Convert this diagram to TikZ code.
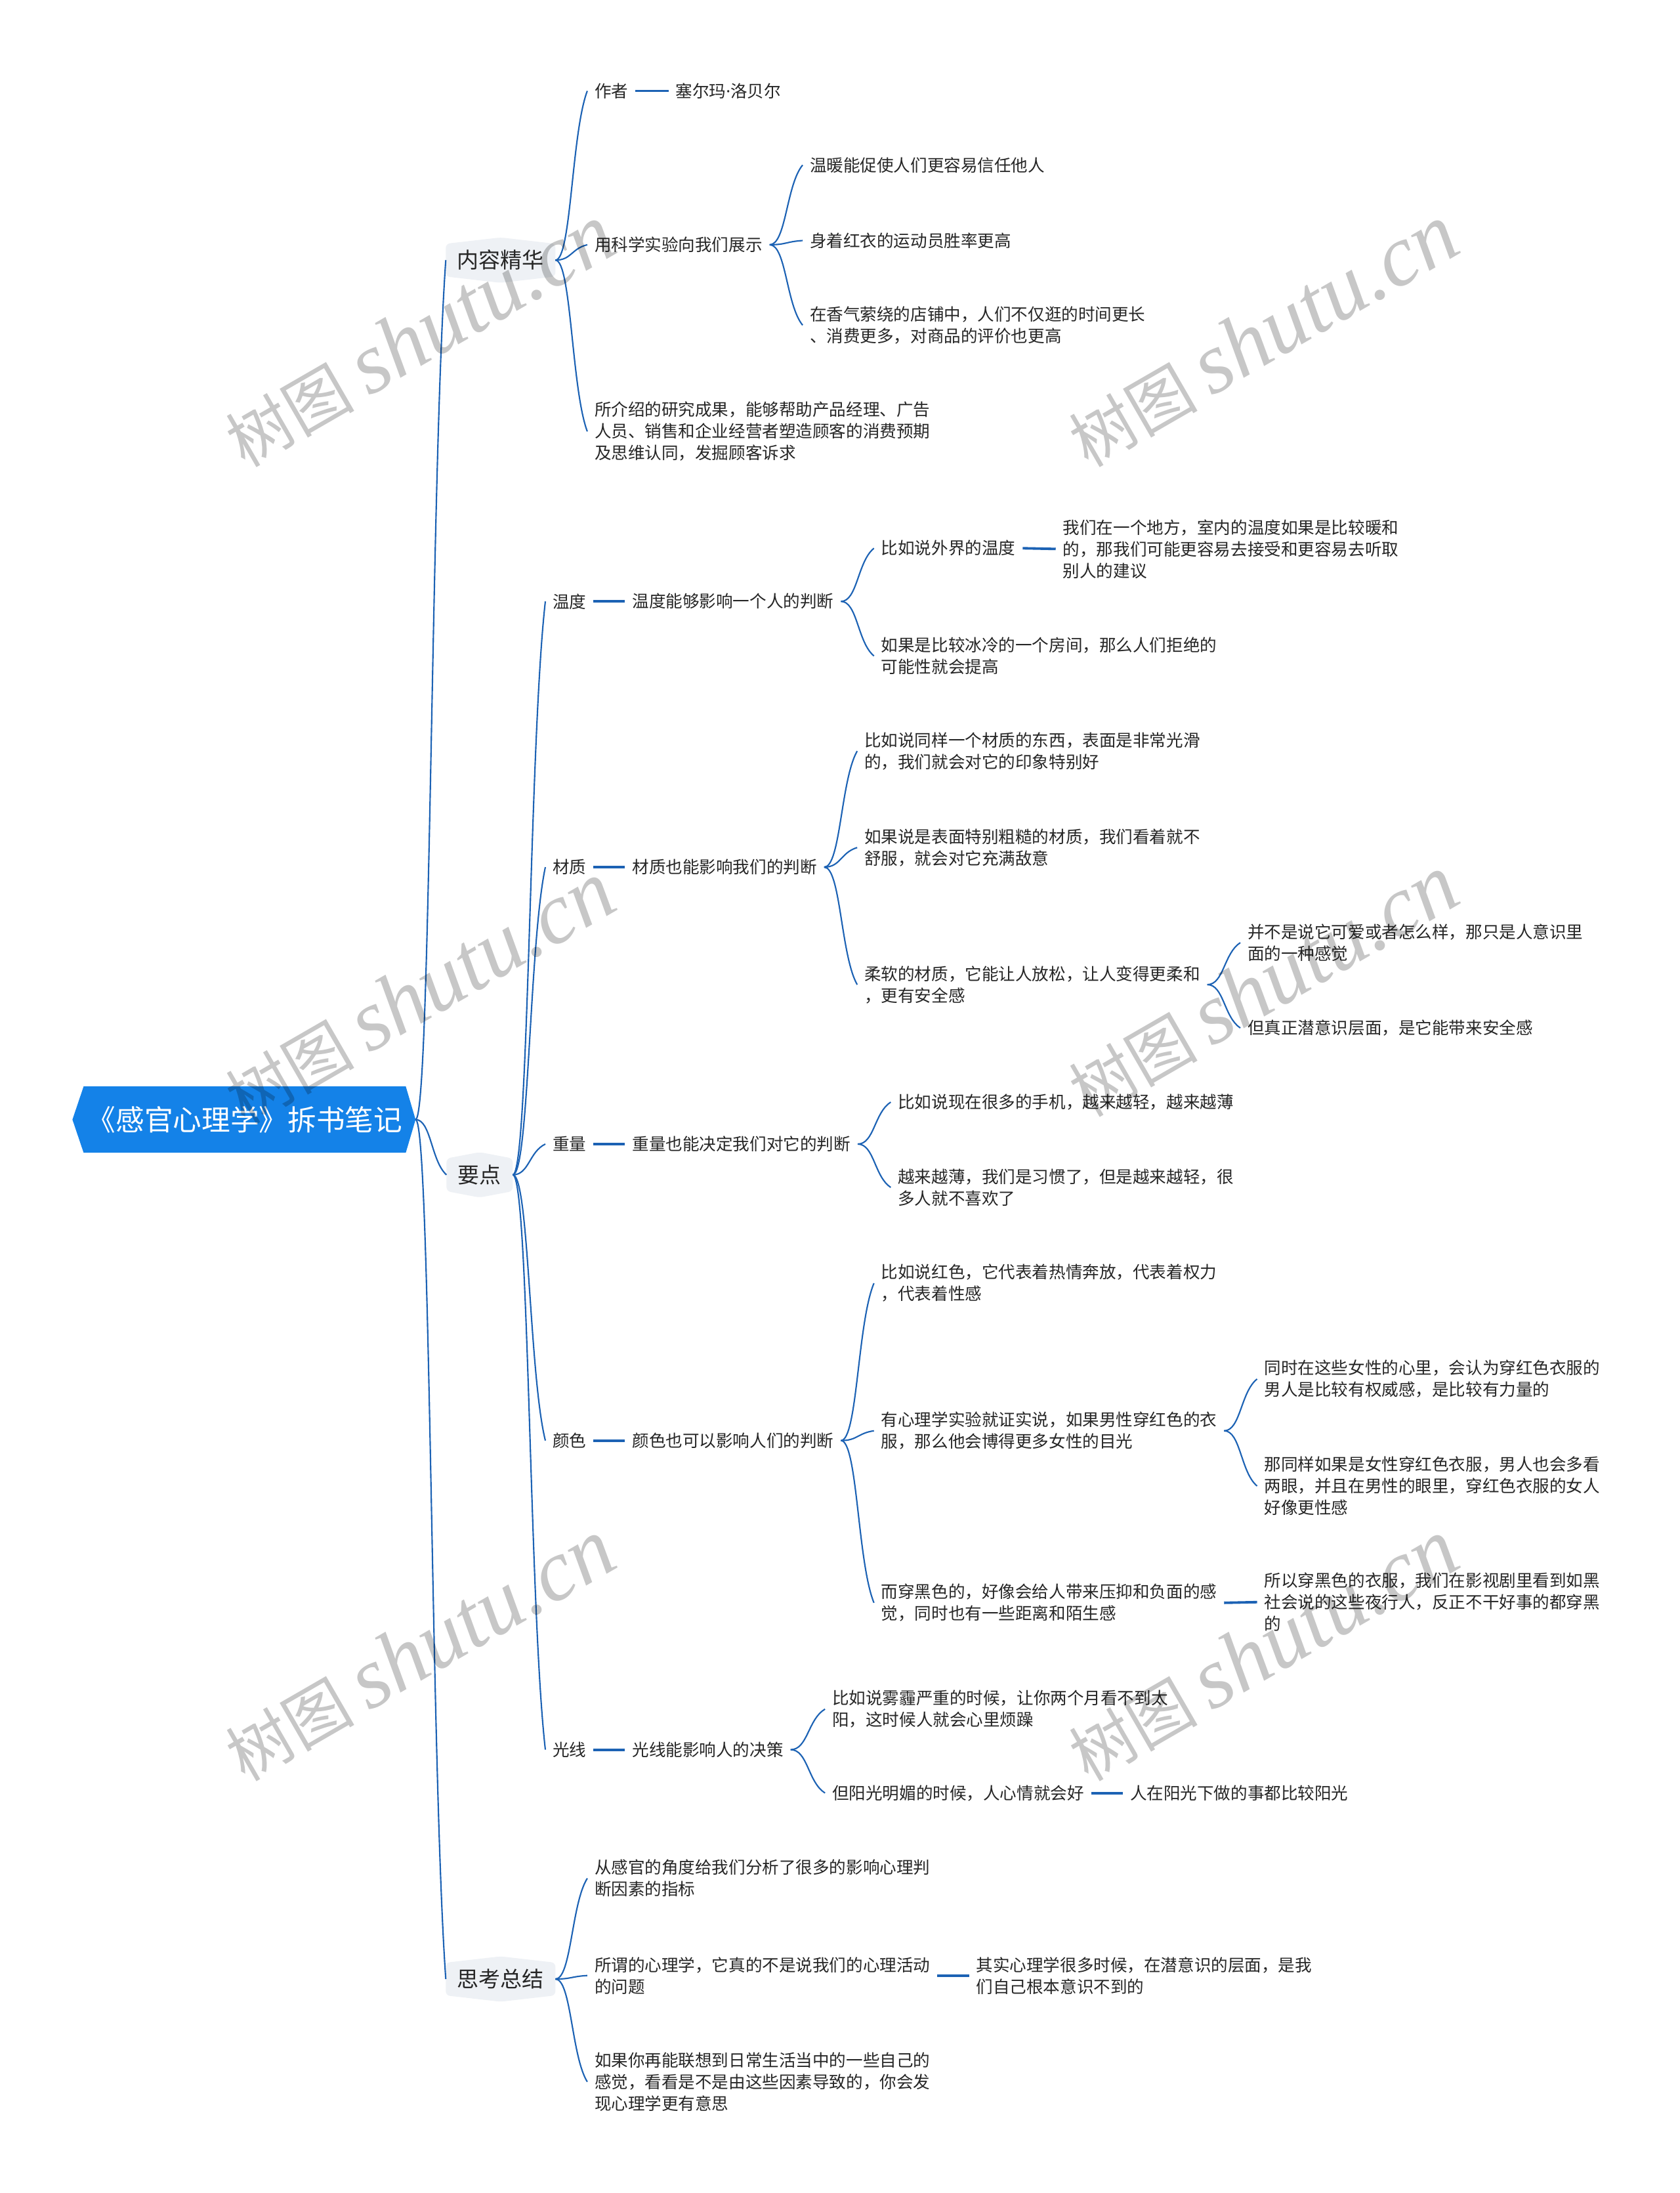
\documentclass[tikz,border=0pt]{standalone}
\usepackage{fontspec}
\newfontfamily\cjk{Noto Sans CJK SC}
\newfontfamily\latinsans{Noto Sans}
\newfontfamily\wmserif{Liberation Serif}
\usetikzlibrary{calc}
\pgfdeclarelayer{background}
\pgfsetlayers{background,main}
\definecolor{linec}{RGB}{28,98,180}
\definecolor{rootc}{RGB}{20,130,232}
\definecolor{lvlbg}{RGB}{238,241,245}
\definecolor{txt}{RGB}{38,38,38}
\tikzset{
  txtnode/.style={anchor=west, inner xsep=5pt, inner ysep=2pt, align=left, text=txt,
    font=\cjk\fontsize{12pt}{15.5pt}\selectfont},
  lvlnode/.style={inner xsep=8pt, inner ysep=0pt, minimum height=32pt, text=txt,
    font=\cjk\fontsize{15.5pt}{18pt}\selectfont},
  curveline/.style={draw=linec, line width=1pt},
  straightline/.style={draw=linec, line width=1.8pt},
  wmark/.style={rotate=30, text=black, text opacity=0.22, inner sep=0pt},
  lvlshape/.style={fill=lvlbg, rounded corners=3pt},
}
\newcommand\curv[2]{\draw[curveline] let \p1=(#1), \p2=(#2) in (\p1) .. controls ({0.5*\x1+0.5*\x2},\y1) and ({0.5*\x1+0.5*\x2},{0.25*\y1+0.75*\y2}) .. (\p2);}
\newcommand\strl[2]{\draw[straightline] (#1.east) -- (#2.west);}
\newcommand\hexbg[1]{\fill[lvlshape] ([yshift=-4.5pt]#1.north west) -- (#1.north) -- ([yshift=-4.5pt]#1.north east) -- ([yshift=4.5pt]#1.south east) -- (#1.south) -- ([yshift=4.5pt]#1.south west) -- cycle;}
\newcommand\wmtext{{\cjk\fontsize{46pt}{50pt}\selectfont 树图}\hspace{10pt}{\wmserif\itshape\fontsize{62pt}{66pt}\selectfont shutu.cn}}
\begin{document}
\begin{tikzpicture}[x=1pt,y=-1pt]
\useasboundingbox (0,0) rectangle (1201,1568);
\begin{pgfonlayer}{background}
\fill[white] (0,0) rectangle (1201,1568);
\end{pgfonlayer}

% root
\node[font=\cjk\fontsize{20.5pt}{24pt}\selectfont, text=white, minimum width=230pt, minimum height=47pt, inner sep=0pt] (root) at (175,800.5) {《感官心理学》拆书笔记};
\coordinate (rootR) at ([xshift=7pt]root.east);
\begin{pgfonlayer}{background}
\fill[rootc] ([xshift=-8pt]root.west) -- (root.north west) -- (root.north east) -- (rootR) -- (root.south east) -- (root.south west) -- cycle;
\end{pgfonlayer}

% level 1
\node[lvlnode] (L1a) at (358,186) {内容精华};
\node[lvlnode] (L1b) at (343,840) {要点};
\node[lvlnode] (L1c) at (358,1415) {思考总结};
\begin{pgfonlayer}{background}
\hexbg{L1a}\hexbg{L1b}\hexbg{L1c}
\end{pgfonlayer}

% 内容精华
\node[txtnode] (a1) at (420,65) {作者};
\node[txtnode] (a1v) at (478,65) {塞尔玛{\latinsans ·}洛贝尔};
\node[txtnode] (a2) at (420,175) {用科学实验向我们展示};
\node[txtnode] (a21) at (574,118) {温暖能促使人们更容易信任他人};
\node[txtnode] (a22) at (574,172) {身着红衣的运动员胜率更高};
\node[txtnode] (a23) at (574,232.5) {在香气萦绕的店铺中，人们不仅逛的时间更长\\、消费更多，对商品的评价也更高};
\node[txtnode] (a3) at (420,308.5) {所介绍的研究成果，能够帮助产品经理、广告\\人员、销售和企业经营者塑造顾客的消费预期\\及思维认同，发掘顾客诉求};

% 要点
\node[txtnode] (b1) at (390,430) {温度};
\node[txtnode] (b1v) at (447,430) {温度能够影响一个人的判断};
\node[txtnode] (b11) at (625,392) {比如说外界的温度};
\node[txtnode] (b11v) at (755,392.5) {我们在一个地方，室内的温度如果是比较暖和\\的，那我们可能更容易去接受和更容易去听取\\别人的建议};
\node[txtnode] (b12) at (625,469) {如果是比较冰冷的一个房间，那么人们拒绝的\\可能性就会提高};
\node[txtnode] (b2) at (390,620) {材质};
\node[txtnode] (b2v) at (447,620) {材质也能影响我们的判断};
\node[txtnode] (b21) at (613,537) {比如说同样一个材质的东西，表面是非常光滑\\的，我们就会对它的印象特别好};
\node[txtnode] (b22) at (613,606) {如果说是表面特别粗糙的材质，我们看着就不\\舒服，就会对它充满敌意};
\node[txtnode] (b23) at (613,704) {柔软的材质，它能让人放松，让人变得更柔和\\，更有安全感};
\node[txtnode] (b231) at (887,674) {并不是说它可爱或者怎么样，那只是人意识里\\面的一种感觉};
\node[txtnode] (b232) at (887,735) {但真正潜意识层面，是它能带来安全感};
\node[txtnode] (b3) at (390,818) {重量};
\node[txtnode] (b3v) at (447,818) {重量也能决定我们对它的判断};
\node[txtnode] (b31) at (637,788) {比如说现在很多的手机，越来越轻，越来越薄};
\node[txtnode] (b32) at (637,849) {越来越薄，我们是习惯了，但是越来越轻，很\\多人就不喜欢了};
\node[txtnode] (b4) at (390,1030) {颜色};
\node[txtnode] (b4v) at (447,1030) {颜色也可以影响人们的判断};
\node[txtnode] (b41) at (625,917.5) {比如说红色，它代表着热情奔放，代表着权力\\，代表着性感};
\node[txtnode] (b42) at (625,1023) {有心理学实验就证实说，如果男性穿红色的衣\\服，那么他会博得更多女性的目光};
\node[txtnode] (b421) at (899,986) {同时在这些女性的心里，会认为穿红色衣服的\\男人是比较有权威感，是比较有力量的};
\node[txtnode] (b422) at (899,1062.5) {那同样如果是女性穿红色衣服，男人也会多看\\两眼，并且在男性的眼里，穿红色衣服的女人\\好像更性感};
\node[txtnode] (b43) at (625,1146) {而穿黑色的，好像会给人带来压抑和负面的感\\觉，同时也有一些距离和陌生感};
\node[txtnode] (b431) at (899,1145.5) {所以穿黑色的衣服，我们在影视剧里看到如黑\\社会说的这些夜行人，反正不干好事的都穿黑\\的};
\node[txtnode] (b5) at (390,1251) {光线};
\node[txtnode] (b5v) at (447,1251) {光线能影响人的决策};
\node[txtnode] (b51) at (590,1222) {比如说雾霾严重的时候，让你两个月看不到太\\阳，这时候人就会心里烦躁};
\node[txtnode] (b52) at (590,1282) {但阳光明媚的时候，人心情就会好};
\node[txtnode] (b52v) at (803,1282) {人在阳光下做的事都比较阳光};

% 思考总结
\node[txtnode] (c1) at (420,1343) {从感官的角度给我们分析了很多的影响心理判\\断因素的指标};
\node[txtnode] (c2) at (420,1412.5) {所谓的心理学，它真的不是说我们的心理活动\\的问题};
\node[txtnode] (c2v) at (693,1412.5) {其实心理学很多时候，在潜意识的层面，是我\\们自己根本意识不到的};
\node[txtnode] (c3) at (420,1488.5) {如果你再能联想到日常生活当中的一些自己的\\感觉，看看是不是由这些因素导致的，你会发\\现心理学更有意思};

% connectors
\curv{rootR}{L1a.west}\curv{rootR}{L1b.west}\curv{rootR}{L1c.west}
\curv{L1a.east}{a1.west}\curv{L1a.east}{a2.west}\curv{L1a.east}{a3.west}
\strl{a1}{a1v}
\curv{a2.east}{a21.west}\curv{a2.east}{a22.west}\curv{a2.east}{a23.west}
\curv{L1b.east}{b1.west}\curv{L1b.east}{b2.west}\curv{L1b.east}{b3.west}\curv{L1b.east}{b4.west}\curv{L1b.east}{b5.west}
\strl{b1}{b1v}\strl{b2}{b2v}\strl{b3}{b3v}\strl{b4}{b4v}\strl{b5}{b5v}
\curv{b1v.east}{b11.west}\curv{b1v.east}{b12.west}\strl{b11}{b11v}
\curv{b2v.east}{b21.west}\curv{b2v.east}{b22.west}\curv{b2v.east}{b23.west}
\curv{b23.east}{b231.west}\curv{b23.east}{b232.west}
\curv{b3v.east}{b31.west}\curv{b3v.east}{b32.west}
\curv{b4v.east}{b41.west}\curv{b4v.east}{b42.west}\curv{b4v.east}{b43.west}
\curv{b42.east}{b421.west}\curv{b42.east}{b422.west}\strl{b43}{b431}
\curv{b5v.east}{b51.west}\curv{b5v.east}{b52.west}\strl{b52}{b52v}
\curv{L1c.east}{c1.west}\curv{L1c.east}{c2.west}\curv{L1c.east}{c3.west}
\strl{c2}{c2v}

% watermarks
\node[wmark] (w1) at (300,240) {\wmtext};
\node[wmark] (w2) at (903,240) {\wmtext};
\node[wmark] (w3) at (300,710) {\wmtext};
\node[wmark] (w4) at (903,705) {\wmtext};
\node[wmark] (w5) at (300,1180) {\wmtext};
\node[wmark] (w6) at (903,1180) {\wmtext};
\end{tikzpicture}
\end{document}
